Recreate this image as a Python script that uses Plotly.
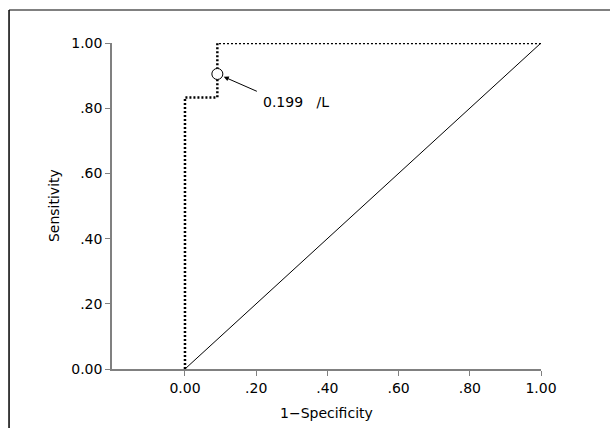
import plotly.graph_objects as go

# ROC curve data
roc_x = [0.0, 0.0, 0.0909, 0.0909, 1.0]
roc_y = [0.0, 0.833, 0.833, 1.0, 1.0]
ref_x = [0.0, 1.0]
ref_y = [0.0, 1.0]
cut_x = [0.0909]
cut_y = [0.905]
cut_label = "0.199   /L"
tick_vals = [0.0, 0.2, 0.4, 0.6, 0.8, 1.0]
tick_text = ["0.00", ".20", ".40", ".60", ".80", "1.00"]

FONT = "'DejaVu Sans', sans-serif"

fig = go.Figure()
fig.add_trace(go.Scatter(x=ref_x, y=ref_y, mode="lines",
                         line=dict(color="black", width=1), showlegend=False, hoverinfo="skip"))
fig.add_trace(go.Scatter(x=roc_x, y=roc_y, mode="lines",
                         line=dict(color="black", width=2.5, dash="2px,2px"), showlegend=False))
fig.add_trace(go.Scatter(x=cut_x, y=cut_y, mode="markers",
                         marker=dict(symbol="circle", size=11, color="white",
                                     line=dict(width=1, color="black")),
                         showlegend=False))

# arrow
fig.add_annotation(x=cut_x[0], y=cut_y[0], xref="x", yref="y", text="", showarrow=True,
                   ax=41, ay=18, axref="pixel", ayref="pixel", arrowhead=2, arrowsize=1,
                   arrowwidth=1, arrowcolor="black", standoff=7)
fig.add_annotation(x=0.2135, y=0.819, xref="x", yref="y", text=cut_label, showarrow=False,
                   xanchor="left", yanchor="middle", font=dict(family=FONT, size=14, color="black"))

# axis titles
fig.add_annotation(x=0.5, y=-0.135, xref="paper", yref="paper", text="1\u2212Specificity",
                   showarrow=False, xanchor="center", yanchor="middle",
                   font=dict(family=FONT, size=14, color="black"))
fig.add_annotation(x=-0.135, y=0.5, xref="paper", yref="paper", text="Sensitivity",
                   showarrow=False, textangle=-90, xanchor="center", yanchor="middle",
                   font=dict(family=FONT, size=14, color="black"))

# outer frame lines
fig.add_shape(type="line", xref="paper", yref="paper", x0=-0.240, x1=1.2, y0=1.101, y1=1.101,
              line=dict(color="#808080", width=2))
fig.add_shape(type="line", xref="paper", yref="paper", x0=-0.240, x1=-0.240, y0=1.101, y1=-0.3,
              line=dict(color="black", width=1.5))

axis_common = dict(tickvals=tick_vals, ticktext=tick_text, showgrid=False, zeroline=False,
                   showline=True, linecolor="#808080", linewidth=1.5, ticks="outside",
                   ticklen=5, tickcolor="#808080", tickwidth=1.2,
                   tickfont=dict(family=FONT, size=14, color="black"))

fig.update_layout(
    width=610, height=428,
    margin=dict(l=112, r=69, t=43, b=59),
    paper_bgcolor="white", plot_bgcolor="white",
    xaxis=dict(range=[-0.205, 1.0], **axis_common),
    yaxis=dict(range=[0.0, 1.0], **axis_common),
)

fig.write_html("out.html")
